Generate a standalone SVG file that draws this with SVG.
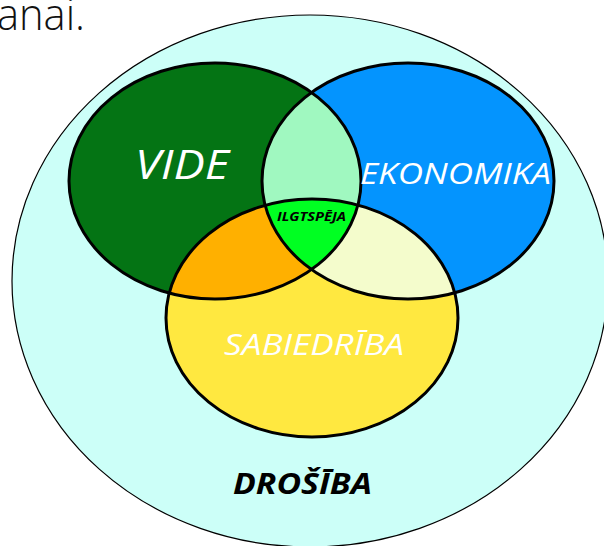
<svg xmlns="http://www.w3.org/2000/svg" width="604" height="546" viewBox="0 0 604 546">
<style>
.ring{stroke:#000;stroke-width:3;fill:none}
.lbl{font-family:"Open Sans","Noto Sans","Liberation Sans",sans-serif;font-style:italic;fill:#fff}
.blk{font-family:"Open Sans","Noto Sans","Liberation Sans",sans-serif;font-style:italic;font-weight:bold;fill:#000}
</style>
<defs>
<clipPath id="cG"><ellipse cx="215" cy="181" rx="146" ry="118"/></clipPath>
<clipPath id="cB"><ellipse cx="408" cy="181" rx="146" ry="118"/></clipPath>
<clipPath id="cY"><ellipse cx="312" cy="318" rx="146" ry="119"/></clipPath>
</defs>
<rect width="604" height="546" fill="#fff"/>
<text x="-3" y="30" font-family="'Open Sans','Noto Sans',sans-serif" font-weight="300" font-size="44" fill="#111" textLength="88" lengthAdjust="spacingAndGlyphs">anai.</text>
<g id="drosiba">
<ellipse cx="310" cy="281" rx="298" ry="266" fill="#ccfff8" stroke="#000" stroke-width="1.2"/>
<text class="blk" x="233" y="494" font-size="29" textLength="139" lengthAdjust="spacingAndGlyphs">DROŠĪBA</text>
</g>
<g id="vide">
<ellipse cx="215" cy="181" rx="146" ry="118" fill="#047414"/>
</g>
<g id="ekonomika">
<ellipse cx="408" cy="181" rx="146" ry="118" fill="#0494fe"/>
</g>
<g id="sabiedriba">
<ellipse cx="312" cy="318" rx="146" ry="119" fill="#ffe840"/>
</g>
<g id="overlaps">
<g clip-path="url(#cG)"><ellipse cx="408" cy="181" rx="146" ry="118" fill="#a0f8c0"/></g>
<g clip-path="url(#cG)"><ellipse cx="312" cy="318" rx="146" ry="119" fill="#ffb000"/></g>
<g clip-path="url(#cB)"><ellipse cx="312" cy="318" rx="146" ry="119" fill="#f4fccc"/></g>
<g clip-path="url(#cG)"><g clip-path="url(#cB)"><ellipse cx="312" cy="318" rx="146" ry="119" fill="#00ff22"/></g></g>
</g>
<g id="outlines">
<ellipse class="ring" cx="215" cy="181" rx="146" ry="118"/>
<ellipse class="ring" cx="408" cy="181" rx="146" ry="118"/>
<ellipse class="ring" cx="312" cy="318" rx="146" ry="119"/>
</g>
<g id="labels">
<text class="lbl" x="135" y="179" font-size="40" textLength="94" lengthAdjust="spacingAndGlyphs">VIDE</text>
<text class="lbl" x="360" y="184" font-size="30" textLength="191" lengthAdjust="spacingAndGlyphs">EKONOMIKA</text>
<text class="lbl" x="224" y="355" font-size="30" textLength="180" lengthAdjust="spacingAndGlyphs">SABIEDRĪBA</text>
<text class="blk" x="277" y="221" font-size="13" textLength="69" lengthAdjust="spacingAndGlyphs">ILGTSPĒJA</text>
</g>
</svg>
